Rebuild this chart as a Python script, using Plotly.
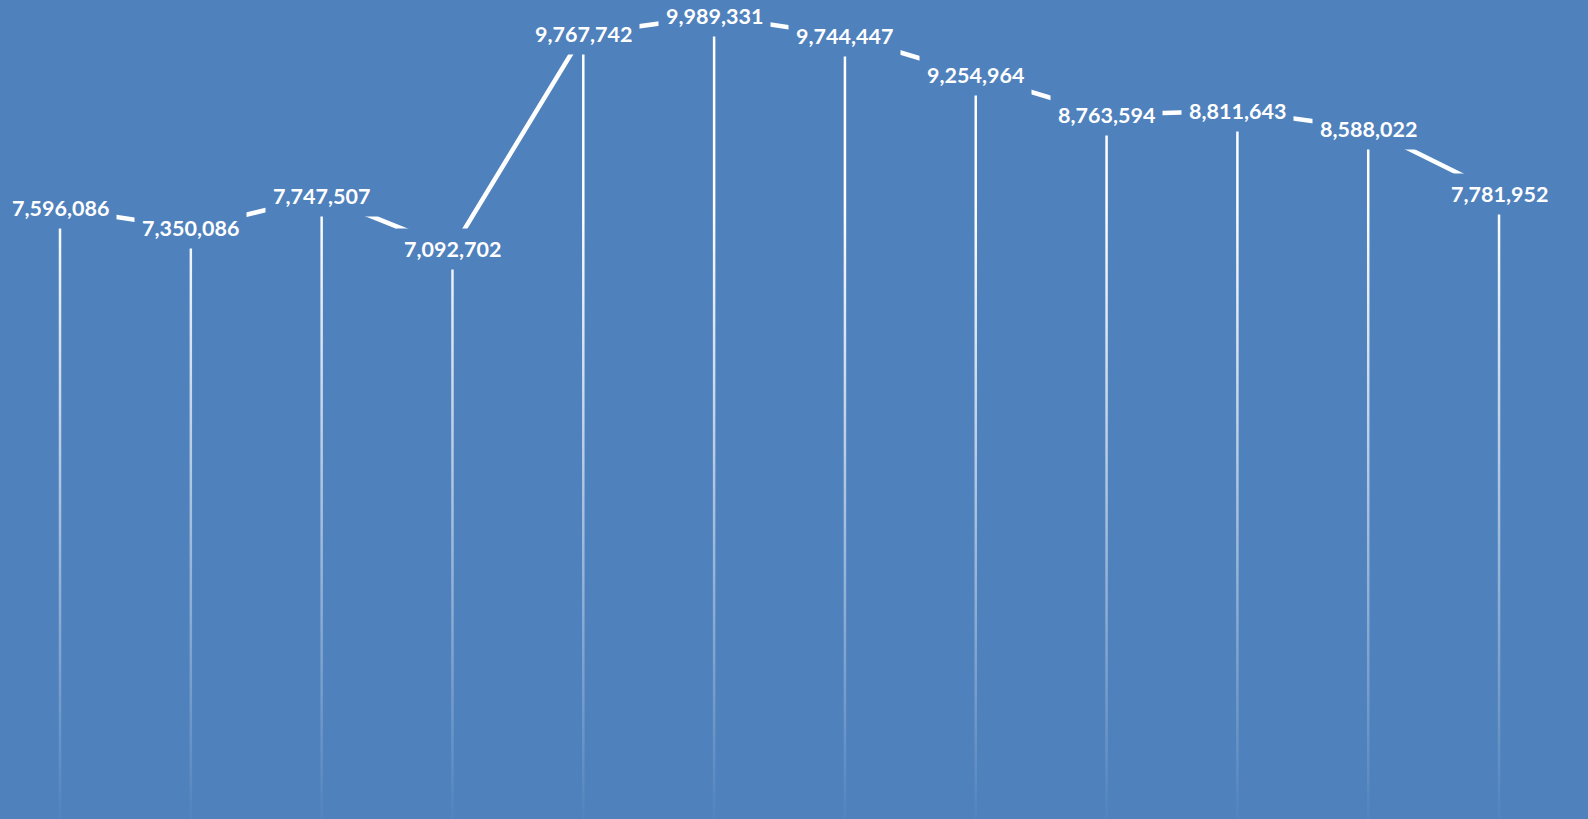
import plotly.graph_objects as go

categories = ["1", "2", "3", "4", "5", "6", "7", "8", "9", "10", "11", "12"]
values = [7596086, 7350086, 7747507, 7092702, 9767742, 9989331,
          9744447, 9254964, 8763594, 8811643, 8588022, 7781952]

BG = "#4F81BD"
Y_TOP = 10190000
X_RANGE = [-0.4587, 11.68]
HALF_W = 0.0095  # half width of a drop line, in category units (~1.25px)

xs = list(range(len(categories)))
fig = go.Figure()

# drop lines as thin filled rectangles with a vertical white->transparent gradient
dx, dy = [], []
for x, v in zip(xs, values):
    dx += [x - HALF_W, x + HALF_W, x + HALF_W, x - HALF_W, x - HALF_W, None]
    dy += [0, 0, v, v, 0, None]
fig.add_trace(go.Scatter(
    x=dx, y=dy, mode="lines", fill="toself",
    line=dict(width=0, color="rgba(0,0,0,0)"),
    fillgradient=dict(type="vertical", start=0, stop=Y_TOP,
                      colorscale=[[0, "rgba(255,255,255,0.02)"],
                                  [0.45, "rgba(255,255,255,0.6)"],
                                  [0.75, "rgba(255,255,255,1)"],
                                  [1, "rgba(255,255,255,1)"]]),
    hoverinfo="skip", showlegend=False))

fig.add_trace(go.Scatter(x=xs, y=values, mode="lines",
                         line=dict(color="white", width=4.5),
                         showlegend=False))

for x, v in zip(xs, values):
    fig.add_annotation(x=x, y=v, text=f"<b>{v:,}</b>", showarrow=False,
                       xanchor="center", yanchor="middle",
                       font=dict(family="Lato", size=21.5, color="white"),
                       bgcolor=BG, borderpad=7)

fig.update_layout(
    width=1588, height=819,
    margin=dict(l=0, r=0, t=0, b=0),
    paper_bgcolor=BG, plot_bgcolor=BG,
    xaxis=dict(visible=False, range=X_RANGE),
    yaxis=dict(visible=False, range=[0, Y_TOP]),
    showlegend=False,
)

fig.write_html(
    "out.html",
    config={"displayModeBar": False},
    post_script="document.body.style.margin='0';document.body.style.overflow='hidden';"
                "document.body.style.background='#4F81BD';",
)
